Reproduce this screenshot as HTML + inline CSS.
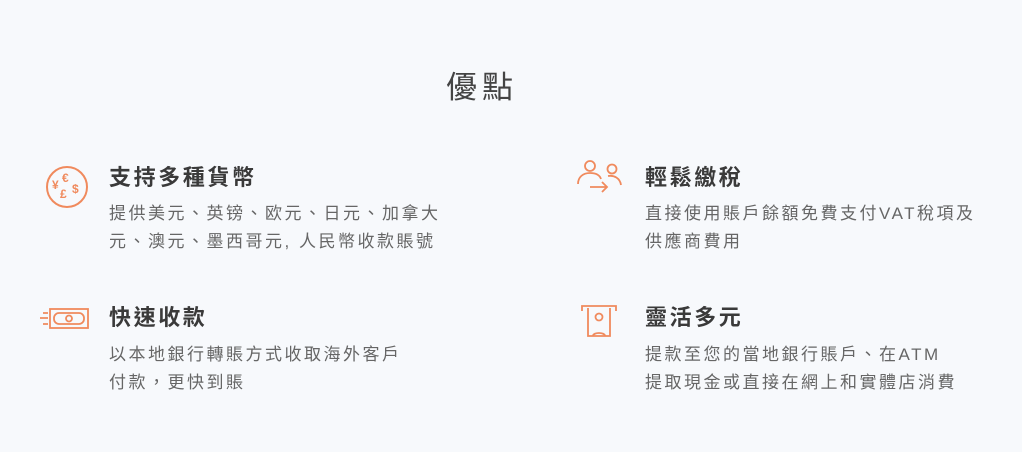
<!DOCTYPE html>
<html><head><meta charset="utf-8"><style>
body{margin:0;width:1022px;height:452px;background:#f7f9fc;font-family:"Liberation Sans","Noto Sans CJK TC",sans-serif;position:relative;overflow:hidden}
.t{position:absolute;left:0;width:1022px;top:66px;text-align:center;font-size:31px;color:#444;letter-spacing:5px;line-height:44px;text-indent:-58px}
.h{position:absolute;font-size:22px;font-weight:bold;color:#3a3a3a;letter-spacing:2.6px;line-height:30px}
.p{position:absolute;font-size:17px;color:#666;letter-spacing:2.5px;line-height:28px;white-space:nowrap}
svg{position:absolute}
</style></head><body>
<div class="t">優點</div>

<svg style="left:44px;top:164px" width="46" height="46" viewBox="0 0 46 46" fill="none" stroke="#f08a5d" stroke-width="2">
<circle cx="23" cy="23" r="20"/>
<text x="8" y="25" font-size="12" fill="#f08a5d" stroke="none" font-family="Liberation Sans" font-weight="bold">¥</text>
<text x="18" y="18" font-size="12" fill="#f08a5d" stroke="none" font-family="Liberation Sans" font-weight="bold">€</text>
<text x="28" y="29" font-size="12" fill="#f08a5d" stroke="none" font-family="Liberation Sans" font-weight="bold">$</text>
<text x="16" y="34" font-size="12" fill="#f08a5d" stroke="none" font-family="Liberation Sans" font-weight="bold">£</text>
</svg>
<div class="h" style="left:109px;top:163px">支持多種貨幣</div>
<div class="p" style="left:109px;top:200px">提供美元、英镑、欧元、日元、加拿大<br>元、澳元、墨西哥元, 人民幣收款賬號</div>

<svg style="left:38px;top:306px" width="52" height="26" viewBox="0 0 52 26" fill="none" stroke="#f08a5d" stroke-width="1.8">
<rect x="12" y="3" width="38" height="19"/>
<rect x="16" y="7" width="30" height="11" rx="5"/>
<circle cx="31" cy="12.5" r="3"/>
<path d="M2 12h8M5 7h5M5 18h5"/>
</svg>
<div class="h" style="left:109px;top:303px">快速收款</div>
<div class="p" style="left:109px;top:341px">以本地銀行轉賬方式收取海外客戶<br>付款，更快到賬</div>

<svg style="left:576px;top:158px" width="48" height="36" viewBox="0 0 48 36" fill="none" stroke="#f08a5d" stroke-width="1.8">
<circle cx="14" cy="8" r="5"/>
<path d="M2 26c0-7 5-11 12-11s10 3 11 6"/>
<circle cx="36" cy="11" r="4.5"/>
<path d="M32 18c6-1 12 2 13 9"/>
<path d="M14 29h17M26 24l5 5-5 5"/>
</svg>
<div class="h" style="left:645px;top:163px">輕鬆繳稅</div>
<div class="p" style="left:645px;top:200px">直接使用賬戶餘額免費支付VAT稅項及<br>供應商費用</div>

<svg style="left:580px;top:304px" width="38" height="34" viewBox="0 0 38 34" fill="none" stroke="#f08a5d" stroke-width="1.8">
<path d="M2 7V2h34v5"/>
<path d="M8 4v28h22V4"/>
<circle cx="19" cy="13" r="3.5"/>
<path d="M13 32c0-4 12-4 12 0"/>
</svg>
<div class="h" style="left:645px;top:303px">靈活多元</div>
<div class="p" style="left:645px;top:341px">提款至您的當地銀行賬戶、在ATM<br>提取現金或直接在網上和實體店消費</div>
</body></html>
